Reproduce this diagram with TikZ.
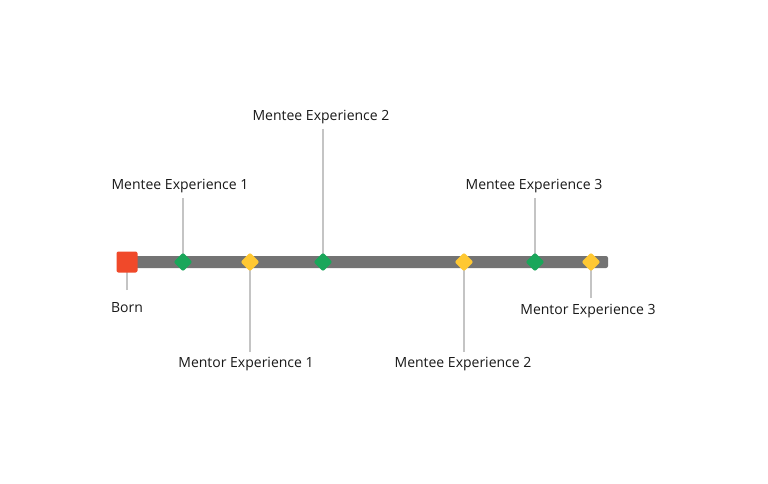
\documentclass[tikz,border=0pt]{standalone}
\usepackage{fontspec}
\setmainfont{Open Sans}
\usetikzlibrary{shapes.geometric}
\definecolor{bar}{HTML}{737373}
\definecolor{redm}{HTML}{F0492A}
\definecolor{greenm}{HTML}{1AA65A}
\definecolor{yellowm}{HTML}{FFC832}
\definecolor{stem}{HTML}{C4C4C4}
\begin{document}
\begin{tikzpicture}[x=1pt,y=-1pt,
  lbl/.style={font=\fontsize{14}{16}\selectfont, text=black!90, inner sep=0pt},
  stemline/.style={draw=stem, line width=2pt},
  gdia/.style={diamond, fill=greenm, minimum width=19pt, minimum height=19pt, inner sep=0pt, rounded corners=2pt},
  ydia/.style={diamond, fill=yellowm, minimum width=19pt, minimum height=19pt, inner sep=0pt, rounded corners=2pt}]
\useasboundingbox (0,0) rectangle (768,484);
\fill[white] (0,0) rectangle (768,484);
\fill[bar, rounded corners=2pt] (120,256) rectangle (608,268);
% labels
\node[lbl] (l1) at (180,186) {Mentee Experience 1};
\node[lbl] (l2) at (321,117) {Mentee Experience 2};
\node[lbl] (l3) at (534,186) {Mentee Experience 3};
\node[lbl] (lb) at (127,308) {Born};
\node[lbl] (m1) at (246,364) {Mentor Experience 1};
\node[lbl] (l4) at (463,364) {Mentee Experience 2};
\node[lbl] (m3) at (588,311) {Mentor Experience 3};
% stems
\coordinate (s1) at (183,198); \coordinate (s2) at (323,129); \coordinate (s3) at (535,198);
\coordinate (sb) at (127,290); \coordinate (sm1) at (250,352); \coordinate (s4) at (464,352);
\coordinate (sm3) at (591,298);
\draw[stemline] (s1) -- (183,262);
\draw[stemline] (s2) -- (323,262);
\draw[stemline] (s3) -- (535,262);
\draw[stemline] (sb) -- (127,262);
\draw[stemline] (sm1) -- (250,262);
\draw[stemline] (s4) -- (464,262);
\draw[stemline] (sm3) -- (591,262);
% markers
\node[fill=redm, minimum size=21pt, inner sep=0pt, rounded corners=2pt] (born) at (127,262) {};
\node[gdia] (g1) at (183,262) {};
\node[gdia] (g2) at (323,262) {};
\node[gdia] (g3) at (535,262) {};
\node[ydia] (y1) at (250,262) {};
\node[ydia] (y2) at (464,262) {};
\node[ydia] (y3) at (591,262) {};
\end{tikzpicture}
\end{document}
